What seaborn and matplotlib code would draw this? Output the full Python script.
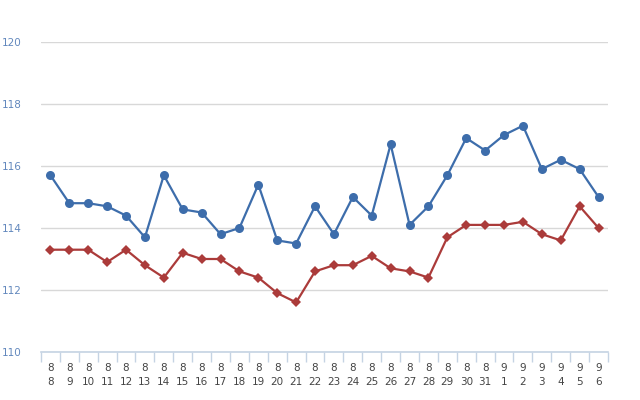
import matplotlib
matplotlib.use("Agg")
import matplotlib.pyplot as plt
import seaborn as sns
import pandas as pd
import numpy as np

months = [8]*24 + [9]*6
days = list(range(8, 32)) + list(range(1, 7))
tick_labels = [f"{m}\n{d}" for m, d in zip(months, days)]

blue_values = [115.7, 114.8, 114.8, 114.7, 114.4, 113.7, 115.7, 114.6, 114.5, 113.8,
               114.0, 115.4, 113.6, 113.5, 114.7, 113.8, 115.0, 114.4, 116.7, 114.1,
               114.7, 115.7, 116.9, 116.5, 117.0, 117.3, 115.9, 116.2, 115.9, 115.0]
red_values = [113.3, 113.3, 113.3, 112.9, 113.3, 112.8, 112.4, 113.2, 113.0, 113.0,
              112.6, 112.4, 111.9, 111.6, 112.6, 112.8, 112.8, 113.1, 112.7, 112.6,
              112.4, 113.7, 114.1, 114.1, 114.1, 114.2, 113.8, 113.6, 114.7, 114.0]
series_names = ["A", "B"]
y_ticks = [110, 112, 114, 116, 118, 120]

n = len(tick_labels)
df = pd.DataFrame({
    "idx": list(range(n)) * 2,
    "value": blue_values + red_values,
    "series": [series_names[0]] * n + [series_names[1]] * n,
})

sns.set_style("white")
fig = plt.figure(figsize=(6.4, 4.0), dpi=100)
ax = fig.add_axes([0.064, 0.12, 0.886, 0.775])

blue = "#3d6dab"
red = "#ab3b3a"
sns.lineplot(data=df, x="idx", y="value", hue="series", style="series",
             palette={"A": blue, "B": red}, markers={"A": "o", "B": "D"},
             dashes=False, linewidth=1.6, markersize=6.5, markeredgewidth=0,
             legend=False, ax=ax)
for line in ax.get_lines():
    if line.get_marker() == "D":
        line.set_markersize(4.8)

ax.set_xlim(-0.5, n - 0.5)
ax.set_ylim(110, 120)
ax.set_yticks(y_ticks)
ax.set_yticklabels([str(t) for t in y_ticks])
ax.yaxis.grid(True, color="#d8d8d8", linewidth=1.0)
ax.set_axisbelow(True)
ax.tick_params(axis="y", left=False, length=0, labelsize=7.5, labelcolor="#6288bd", pad=14)

ax.set_xticks(range(n))
ax.set_xticklabels(tick_labels)
ax.set_xticks(np.arange(-0.5, n, 1.0), minor=True)
ax.tick_params(axis="x", which="major", bottom=False, length=0, labelsize=7.5,
               labelcolor="#444444", pad=8)
ax.tick_params(axis="x", which="minor", bottom=True, length=7, color="#c5d3e3", width=1)
for lbl in ax.get_xticklabels():
    lbl.set_linespacing(1.5)

for s in ["top", "right", "left"]:
    ax.spines[s].set_visible(False)
ax.spines["bottom"].set_color("#c5d3e3")
ax.spines["bottom"].set_linewidth(1.2)
ax.spines["bottom"].set_zorder(3)
ax.set_xlabel("")
ax.set_ylabel("")

fig.savefig("out.png", dpi=100)
